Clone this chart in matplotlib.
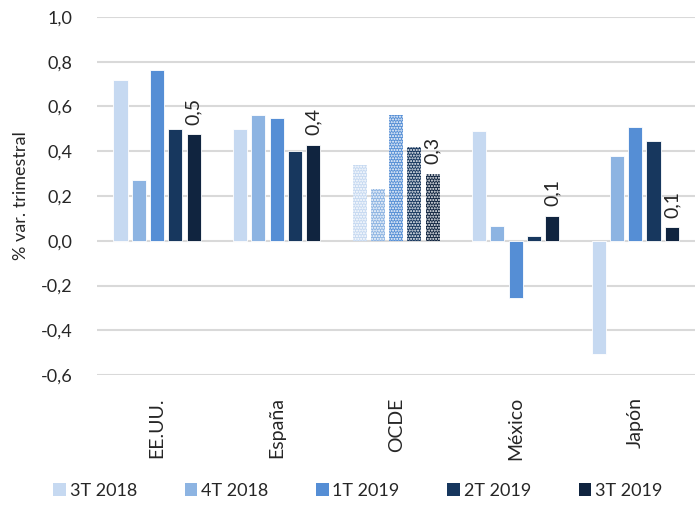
import numpy as np
import matplotlib
matplotlib.use("Agg")
import matplotlib.pyplot as plt
from matplotlib.ticker import FuncFormatter, MultipleLocator

plt.rcParams["font.family"] = ["Lato", "DejaVu Sans"]
plt.rcParams["hatch.linewidth"] = 1.0

paises = ["EE.UU.", "España", "OCDE", "México", "Japón"]
series = ["3T 2018", "4T 2018", "1T 2019", "2T 2019", "3T 2019"]
t3_2018 = [0.72, 0.50, 0.34, 0.49, -0.505]
t4_2018 = [0.27, 0.56, 0.23, 0.065, 0.38]
t1_2019 = [0.765, 0.55, 0.56, -0.255, 0.51]
t2_2019 = [0.50, 0.40, 0.42, 0.02, 0.445]
t3_2019 = [0.475, 0.43, 0.30, 0.11, 0.06]
etiquetas = ["0,5", "0,4", "0,3", "0,1", "0,1"]
colores = ["#c6d9f1", "#8db4e2", "#558ed5", "#17375e", "#10243f"]
hatched = "OCDE"

valores = [t3_2018, t4_2018, t1_2019, t2_2019, t3_2019]

fig = plt.figure(figsize=(6.95, 5.05), dpi=100)
ax = fig.add_axes([0.14, 0.2574, 0.86, 0.709])

x = np.arange(len(paises))
step = 0.153
width = 0.118
for i, (nombre, vals, col) in enumerate(zip(series, valores, colores)):
    pos = x + (i - 2) * step
    for j, (p, v) in enumerate(zip(pos, vals)):
        if paises[j] == hatched:
            ax.bar(p, v, width, color=col, edgecolor="white", hatch="......", linewidth=0)
        else:
            ax.bar(p, v, width, color=col, edgecolor="white", linewidth=0.6)
    ax.bar(0, 0, 0, color=col, label=nombre)

# etiquetas de la última serie
for p, v, t in zip(x + 2 * step, t3_2019, etiquetas):
    ax.annotate(t, (p, v), xytext=(0, 7), textcoords="offset points",
                rotation=90, ha="center", va="bottom", fontsize=14, color="#262626")

ax.set_xlim(-0.5, 4.5)
ax.set_ylim(-0.6, 1.0)
ax.yaxis.set_major_locator(MultipleLocator(0.2))
ax.yaxis.set_major_formatter(FuncFormatter(lambda v, _: f"{v:.1f}".replace(".", ",").replace("-0,0", "0,0")))
ax.grid(axis="y", color="#d9d9d9", linewidth=1.5)
ax.set_axisbelow(True)
for s in ax.spines.values():
    s.set_visible(False)
ax.tick_params(axis="both", length=0, labelsize=13, colors="#262626")
ax.tick_params(axis="y", pad=18)
ax.tick_params(axis="x", pad=16, labelsize=14)
ax.set_xticks(x)
ax.set_xticklabels(paises, rotation=90, va="top")
ax.set_ylabel("% var. trimestral", fontsize=13, color="#262626", labelpad=8)

fig.legend(loc="center", bbox_to_anchor=(0.515, 0.028), ncol=5, frameon=False,
           fontsize=13, handlelength=0.7, handleheight=0.7, handletextpad=0.2,
           columnspacing=2.65, labelcolor="#262626")

fig.savefig("out.png", dpi=100)
